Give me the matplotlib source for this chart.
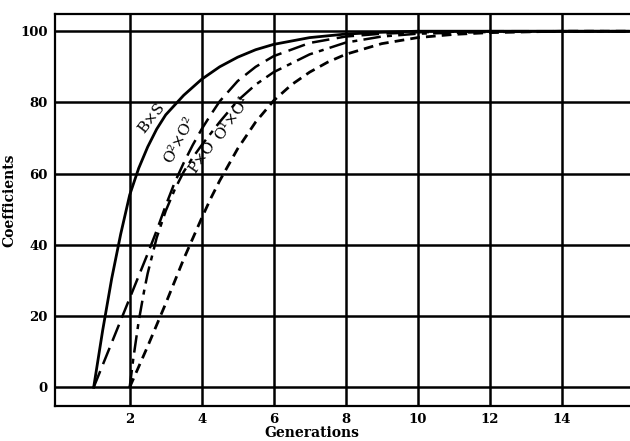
import matplotlib
matplotlib.use("Agg")
import matplotlib.pyplot as plt

# values (generations vs coefficient, %)
bs_x = [1, 1.25, 1.5, 1.75, 2, 2.25, 2.5, 2.75, 3, 3.5, 4, 4.5, 5, 5.5, 6, 7, 8, 9, 10, 12, 16]
bs_y = [0, 16, 30.5, 43, 54, 61.5, 67.5, 72.5, 76.5, 82, 86.5, 90, 92.7, 94.8, 96.3, 98.2, 99.2, 99.7, 100, 100, 100]

o2_x = [1, 1.5, 2, 2.5, 2.75, 3, 3.25, 3.5, 3.75, 4, 4.25, 4.5, 5, 5.5, 6, 7, 8, 9, 10, 12, 16]
o2_y = [0, 12.5, 25, 37.5, 44, 51, 57.5, 63, 68, 72.5, 76.5, 80.3, 86, 90, 93, 96.7, 98.5, 99.3, 99.7, 100, 100]

po_x = [2, 2.1, 2.25, 2.4, 2.5, 2.75, 3, 3.25, 3.5, 3.75, 4, 4.5, 5, 5.5, 6, 7, 8, 9, 10, 12, 16]
po_y = [0, 8, 18.5, 27, 32, 42, 49.5, 55.5, 60.5, 64.5, 68, 74.5, 80.5, 85, 88.5, 93.5, 96.8, 98.5, 99.3, 99.8, 100]

o1_x = [2, 2.5, 3, 3.5, 4, 4.25, 4.5, 4.75, 5, 5.5, 6, 6.5, 7, 7.5, 8, 9, 10, 11, 12, 14, 16]
o1_y = [0, 11.5, 23.5, 36, 47.5, 53, 58, 62.5, 67, 74.5, 80.5, 85, 88.5, 91.3, 93.5, 96.5, 98.2, 99.1, 99.6, 100, 100]

x_ticks = [2, 4, 6, 8, 10, 12, 14]
y_ticks = [0, 20, 40, 60, 80, 100]

plt.rcParams['font.family'] = ['DejaVu Serif']

fig = plt.figure(figsize=(6.3, 4.41), dpi=100)
ax = fig.add_axes([0.087, 0.079, 0.913, 0.889])

# grid drawn as heavy black lines like the printed chart
for gx in x_ticks:
    ax.axvline(gx, color="black", lw=1.8, zorder=1)
for gy in y_ticks:
    ax.axhline(gy, color="black", lw=1.8, zorder=1)

ax.plot(bs_x, bs_y, color="black", lw=2.0, zorder=3)
ax.plot(o2_x, o2_y, color="black", lw=1.8, dashes=(7, 3), zorder=3)
ax.plot(po_x, po_y, color="black", lw=1.8, dashes=(7, 2.5, 2, 2.5), zorder=3)
ax.plot(o1_x, o1_y, color="black", lw=2.0, dashes=(3.5, 2.2), zorder=3)

# curve labels
ax.text(2.62, 75.5, "B×S", rotation=52, fontsize=11, ha="center", va="center")
ax.text(3.37, 69.5, "O²×O²", rotation=62, fontsize=11, ha="center", va="center")
ax.text(4.02, 64.5, "P×O", rotation=55, fontsize=11, ha="center", va="center")
ax.text(4.85, 75.6, "O¹×O¹", rotation=55, fontsize=11, ha="center", va="center")

ax.set_xlim(-0.08, 15.9)
ax.set_ylim(-5.3, 104.8)
ax.set_xticks(x_ticks)
ax.set_yticks(y_ticks)
ax.tick_params(length=0, labelsize=9.5, pad=5)
for lab in ax.get_xticklabels() + ax.get_yticklabels():
    lab.set_fontweight("bold")

ax.spines["right"].set_visible(False)
for s in ["left", "top", "bottom"]:
    ax.spines[s].set_linewidth(1.6)

ax.set_xlabel("Generations", fontsize=10, fontweight="bold")
ax.set_ylabel("Coefficients", fontsize=10, fontweight="bold")
ax.xaxis.set_label_coords(0.447, -0.05)
ax.yaxis.set_label_coords(-0.066, 0.525)

plt.savefig("out.png", dpi=100)
